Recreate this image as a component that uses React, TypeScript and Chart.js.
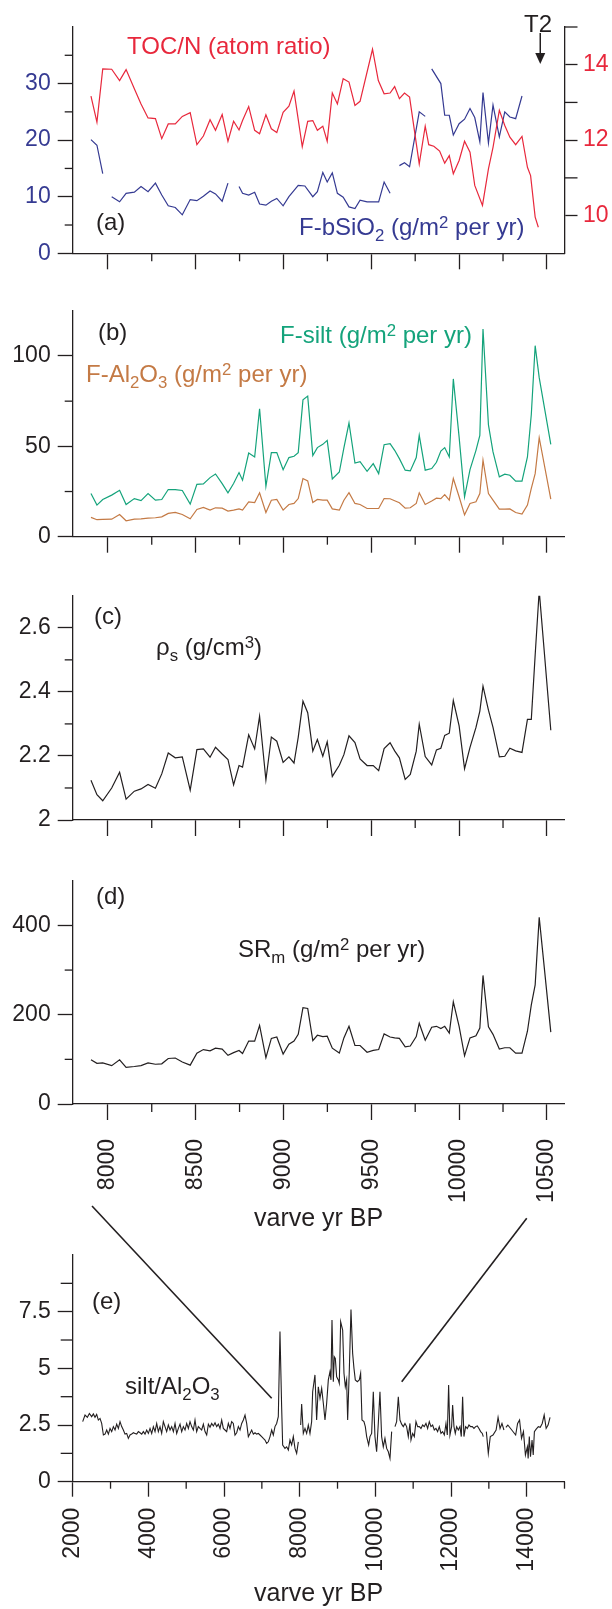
import React, { useEffect, useRef } from 'react';
import { Chart, registerables } from 'chart.js';

Chart.register(...registerables);

const FONT = '"Liberation Sans", Arial, Helvetica, sans-serif';
const INK = '#231f20';
const RED = '#e8283c';
const BLUE = '#353a92';
const GREEN = '#14a37b';
const BROWN = '#c47a45';

// ---------- Panel (a) ----------
const TOC_YEARS = [
  7904, 7938, 7971, 8022, 8067, 8104, 8151, 8189, 8229, 8271,
  8307, 8344, 8384, 8424, 8469, 8507, 8544, 8582, 8613, 8651,
  8684, 8716, 8747, 8767, 8802, 8836, 8864, 8900, 8931, 8962,
  8998, 9031, 9060, 9107, 9138, 9167, 9193, 9224, 9249, 9278,
  9307, 9340, 9373, 9407, 9436, 9507, 9540, 9573, 9607, 9633,
  9660, 9689, 9718, 9773, 9807, 9827, 9856, 9889, 9918, 9944,
  9967, 10000, 10031, 10062, 10089, 10133, 10167, 10193, 10229, 10260,
  10289, 10322, 10358, 10389, 10407, 10433, 10451,
];
const TOC_VALUES = [
  13.17, 12.48, 13.89, 13.88, 13.58, 13.87, 13.36, 12.96, 12.59, 12.57,
  12.04, 12.43, 12.43, 12.63, 12.73, 11.88, 12.11, 12.54, 12.26, 12.68,
  11.97, 12.5, 12.27, 12.52, 12.89, 12.26, 12.17, 12.67, 12.3, 12.2,
  12.74, 12.9, 13.3, 11.83, 12.5, 12.52, 12.26, 12.37, 11.97, 13.25,
  12.96, 13.63, 13.54, 12.92, 13.03, 14.41, 13.58, 13.23, 13.25, 13.42,
  13.1, 13.25, 13.14, 11.37, 12.37, 11.88, 11.84, 11.71, 11.39, 11.59,
  11.11, 11.46, 11.97, 11.68, 10.8, 10.27, 11.24, 11.81, 12.79, 12.39,
  12.08, 11.88, 12.1, 11.28, 11.06, 9.96, 9.69,
];
const BSI_YEARS = [
  7904, 7938, 7971, 7995, 8022, 8067, 8104, 8151, 8189, 8229,
  8271, 8307, 8344, 8384, 8424, 8469, 8507, 8544, 8582, 8613,
  8651, 8684, 8715, 8747, 8767, 8802, 8836, 8864, 8900, 8931,
  8962, 8998, 9031, 9084, 9122, 9167, 9193, 9224, 9249, 9278,
  9307, 9340, 9373, 9407, 9436, 9476, 9511, 9542, 9573, 9607,
  9633, 9660, 9689, 9718, 9773, 9807, 9825, 9844, 9896, 9918,
  9944, 9967, 10000, 10031, 10062, 10089, 10118, 10136, 10167, 10193,
  10229, 10260, 10289, 10322, 10358,
];
const BSI_VALUES = [
  20.1, 19.1, 14.1, null, 10.0, 9.1, 10.6, 10.8, 11.8, 10.9,
  12.4, 10.3, 8.4, 8.1, 6.8, 9.5, 9.3, 10.1, 11.0, 10.5,
  9.2, 12.4, null, 11.8, 10.6, 10.3, 10.8, 8.7, 8.5, 9.2,
  9.7, 8.4, 10.0, 12.0, 11.9, 10.0, 10.9, 14.3, 12.6, 14.2,
  10.6, 9.9, 8.2, 7.9, 9.4, 9.1, 9.1, 9.1, 12.6, 10.6,
  null, 15.5, 16.0, 15.3, 25.0, 24.2, null, 32.6, 30.0, 24.4,
  24.4, 20.9, 22.9, 23.7, 25.6, 24.0, 19.7, 28.4, 19.5, 26.2,
  20.6, 25.0, 24.1, 23.8, 27.8,
];
const T2_YEAR = 10462;

// ---------- Panels (b)-(d), shared samples ----------
const YEARS_BD = [
  7904, 7938, 7971, 8022, 8067, 8104, 8151, 8189, 8229, 8271,
  8307, 8344, 8384, 8424, 8469, 8507, 8544, 8582, 8613, 8651,
  8684, 8716, 8747, 8767, 8802, 8836, 8864, 8900, 8931, 8962,
  8998, 9031, 9060, 9084, 9111, 9138, 9167, 9193, 9224, 9249,
  9278, 9318, 9344, 9373, 9407, 9436, 9476, 9511, 9542, 9573,
  9607, 9633, 9660, 9693, 9722, 9756, 9773, 9807, 9844, 9871,
  9896, 9918, 9944, 9967, 10000, 10031, 10062, 10096, 10118, 10136,
  10167, 10193, 10229, 10260, 10289, 10322, 10358, 10389, 10411, 10433,
  10456, 10522,
];
const SILT = [
  23.9, 17.5, 20.6, 23.0, 25.7, 17.8, 21.1, 20.0, 23.9, 20.2,
  20.6, 26.1, 26.1, 25.6, 18.0, 29.0, 29.2, 32.7, 34.7, 29.4,
  24.3, 29.4, 35.5, 31.3, 46.3, 44.1, 70.8, 27.9, 46.5, 46.5,
  37.1, 43.8, 44.5, 46.5, 75.7, 77.8, 44.9, 49.3, 51.1, 53.3,
  32.0, 35.8, 49.1, 62.9, 40.8, 41.5, 36.2, 40.4, 34.9, 50.9,
  51.5, 47.8, 43.2, 36.8, 36.4, 43.8, 56.1, 36.8, 37.7, 41.2,
  47.4, 49.3, 44.1, 87.3, 55.1, 22.1, 37.1, 47.8, 56.1, 114.9,
  61.9, 46.9, 33.1, 34.6, 34.0, 30.7, 30.7, 44.1, 67.6, 105.7,
  88.0, 51.1,
];
const AL2O3 = [
  10.7, 9.4, 9.6, 9.7, 12.3, 8.8, 9.7, 9.9, 10.3, 10.5,
  11.0, 12.9, 13.4, 12.3, 9.9, 15.1, 16.2, 14.7, 16.0, 15.8,
  14.2, 14.7, 15.4, 14.7, 19.3, 18.9, 24.3, 13.4, 20.2, 20.6,
  14.7, 17.8, 18.4, 21.1, 32.2, 30.9, 18.9, 20.6, 20.2, 20.2,
  15.4, 14.7, 20.2, 24.4, 18.4, 17.8, 15.6, 15.6, 15.6, 21.1,
  21.0, 19.9, 18.8, 15.8, 16.0, 18.4, 24.3, 17.8, 19.7, 21.3,
  21.1, 23.3, 20.2, 32.2, 22.1, 12.1, 18.4, 19.3, 23.9, 42.3,
  23.9, 20.2, 15.3, 15.3, 15.4, 13.4, 12.5, 17.5, 26.7, 34.9,
  54.8, 20.8,
];
const RHO_S = [
  2.124, 2.079, 2.06, 2.1, 2.149, 2.065, 2.09, 2.097, 2.111, 2.099,
  2.144, 2.209, 2.194, 2.197, 2.093, 2.22, 2.222, 2.196, 2.227, 2.206,
  2.189, 2.11, 2.17, 2.165, 2.266, 2.222, 2.324, 2.125, 2.259, 2.246,
  2.18, 2.197, 2.178, 2.258, 2.371, 2.335, 2.215, 2.251, 2.199, 2.244,
  2.136, 2.171, 2.204, 2.263, 2.242, 2.191, 2.17, 2.17, 2.154, 2.223,
  2.241, 2.216, 2.194, 2.127, 2.142, 2.215, 2.299, 2.198, 2.172, 2.219,
  2.224, 2.264, 2.271, 2.373, 2.294, 2.16, 2.227, 2.289, 2.34, 2.418,
  2.343, 2.289, 2.197, 2.199, 2.224, 2.216, 2.211, 2.314, 2.314, 2.515,
  2.716, 2.28,
];
const SR_M = [
  99, 91, 92, 86, 99, 82, 84, 86, 92, 89,
  90, 102, 103, 94, 87, 114, 122, 119, 125, 123,
  109, 115, 120, 113, 141, 141, 176, 104, 147, 150,
  112, 134, 141, 156, 216, 214, 142, 154, 151, 152,
  125, 114, 148, 174, 131, 131, 116, 120, 122, 157,
  150, 148, 147, 128, 130, 151, 181, 143, 172, 174,
  169, 174, 159, 229, 174, 108, 148, 153, 170, 288,
  173, 156, 123, 126, 126, 114, 114, 163, 222, 267,
  418, 161,
];

// ---------- Panel (e) ----------
const E_YEARS = [
  2264, 2326, 2388, 2441, 2502, 2546, 2590, 2634, 2678, 2722,
  2766, 2811, 2855, 2899, 2943, 2987, 3031, 3075, 3119, 3163,
  3207, 3251, 3295, 3339, 3383, 3427, 3471, 3515, 3559, 3603,
  3647, 3692, 3736, 3780, 3824, 3868, 3912, 3956, 4000, 4044,
  4088, 4132, 4176, 4220, 4264, 4308, 4352, 4396, 4440, 4484,
  4528, 4573, 4617, 4661, 4705, 4749, 4793, 4837, 4881, 4925,
  4969, 5013, 5057, 5101, 5145, 5189, 5233, 5277, 5321, 5365,
  5409, 5454, 5498, 5542, 5586, 5630, 5674, 5718, 5762, 5806,
  5850, 5894, 5938, 5982, 6026, 6070, 6114, 6158, 6202, 6246,
  6290, 6335, 6379, 6423, 6467, 6511, 6555, 6599, 6643, 6687,
  6731, 6775, 6819, 6863, 6907, 6951, 6995, 7039, 7083, 7127,
  7171, 7216, 7260, 7303, 7347, 7391, 7435, 7479, 7523, 7550,
  7611, 7656, 7700, 7744, 7788, 7832, 7876, 7920, 7964, 7995,
  8026, 8052, 8096, 8140, 8184, 8228, 8272, 8316, 8343, 8404,
  8448, 8492, 8537, 8581, 8625, 8669, 8713, 8757, 8801, 8827,
  8854, 8889, 8915, 8942, 8977, 9021, 9047, 9083, 9136, 9171,
  9206, 9241, 9268, 9312, 9356, 9400, 9435, 9470, 9523, 9576,
  9611, 9647, 9699, 9735, 9770, 9823, 9858, 9902, 9946, 9990,
  10034, 10078, 10122, 10166, 10210, 10254, 10299, 10343, 10387, 10431,
  10475, 10519, 10563, 10607, 10651, 10695, 10739, 10783, 10827, 10871,
  10915, 10942, 10986, 11030, 11074, 11118, 11162, 11206, 11250, 11294,
  11338, 11382, 11426, 11470, 11514, 11558, 11602, 11646, 11690, 11735,
  11779, 11823, 11867, 11902, 11937, 11972, 12016, 12043, 12078, 12113,
  12149, 12193, 12237, 12272, 12307, 12342, 12386, 12430, 12475, 12519,
  12563, 12607, 12651, 12695, 12739, 12783, 12827, 12853, 12895, 12934,
  12986, 13038, 13110, 13192, 13244, 13296, 13347, 13399, 13425, 13451,
  13502, 13606, 13709, 13760, 13812, 13864, 13915, 13967, 14019, 14039,
  14070, 14101, 14142, 14173, 14204, 14246, 14308, 14359, 14411, 14463,
  14515, 14566, 14618,
];
const SILT_AL2O3 = [
  2.65, 2.94, 2.84, 3.01, 2.87, 2.99, 2.84, 2.97, 2.72, 2.79,
  2.57, 2.06, 2.1, 2.28, 2.1, 2.35, 2.21, 2.43, 2.28, 2.54,
  2.35, 2.65, 2.43, 2.28, 2.1, 2.13, 1.91, 2.06, 2.1, 2.16,
  2.13, 2.1, 2.21, 2.16, 2.1, 2.21, 2.1, 2.28, 2.13, 2.35,
  2.13, 2.43, 2.21, 2.57, 2.21, 2.43, 2.13, 2.65, 2.43, 2.21,
  2.5, 2.28, 2.43, 2.21, 2.57, 2.13, 2.35, 2.54, 2.21, 2.43,
  2.28, 2.57, 2.35, 2.65, 2.43, 2.28, 2.72, 2.21, 2.43, 2.35,
  2.28, 2.54, 2.21, 2.06, 2.54, 2.4, 2.57, 2.46, 2.6, 2.43,
  2.54, 2.35, 2.72, 2.35, 2.28, 2.21, 2.57, 2.35, 2.65, 2.57,
  2.06, 2.16, 2.43, 2.28, 2.57, 2.72, 2.94, 2.57, 1.99, 2.13,
  2.28, 2.1, 2.16, 2.1, 2.13, 2.06, 1.99, 1.91, 1.84, 1.69,
  1.76, 1.99, 2.28, 2.06, 2.43, 2.57, 2.87, 6.62, 3.31, 1.62,
  1.47, 1.54, 1.4, 1.84, 1.62, 1.99, 1.47, 1.25, 1.76, null,
  2.5, 3.43, 2.13, 2.35, 2.13, 2.5, 2.13, 2.65, 3.97, 4.71,
  2.72, 4.19, 3.68, 4.12, 3.46, 2.72, 3.46, 4.49, 4.85, 4.49,
  7.13, 4.41, 5.51, 5.44, 4.63, 4.49, 4.34, 7.06, 6.69, 4.78,
  4.19, 4.49, 2.72, 4.93, 7.6, 5.66, 5.0, 4.49, 4.41, 4.49,
  4.78, 2.72, 2.65, 2.43, 1.99, 1.62, 1.99, 2.13, 3.97, 1.99,
  1.32, 2.57, 3.97, 1.99, 1.54, 1.91, 1.47, 1.32, 1.03, 2.21,
  null, 2.43, 2.65, 3.75, 2.72, 2.54, 2.43, 2.57, 2.43, 1.99,
  2.57, 1.84, 2.13, 1.99, 2.65, 2.43, 2.43, 2.35, 2.5, 2.43,
  2.57, 2.35, 2.65, 2.43, 2.5, 2.28, 2.35, 2.21, 2.43, 2.13,
  2.21, 2.06, 2.57, 2.06, 4.26, 2.06, 2.43, 3.38, 2.43, 2.13,
  2.43, 2.28, 2.43, 1.99, 3.75, 1.99, 2.43, 2.35, 2.5, 2.43,
  2.43, 2.35, 2.43, 2.46, 2.35, 2.21, 2.13, 1.99, null, 2.21,
  1.25, 1.99, 2.06, 2.28, 2.84, 2.35, 2.57, 2.28, null, 2.4,
  2.5, 2.28, 2.06, 2.57, 2.72, 1.91, 2.21, 1.18, 1.54, 1.03,
  1.99, 1.1, 1.84, 1.18, 2.21, 2.31, 2.43, 2.4, 2.57, 2.94,
  2.35, 2.5, 2.84,
];

// Zoom connectors: top end on the (a)-(d) time axis, bottom end in panel (e)
const LINK_TOP_YEARS = [7910, 10385];
const LINK_BOTTOM_YEARS = [7260, 10697];
const LINK_BOTTOM_VALUES = [3.68, 4.41];

// ---------- Axes / ticks ----------
const X_TOP_MIN = 7800;
const X_TOP_MAX = 10600;
const X_TOP_MAJOR = [8000, 8500, 9000, 9500, 10000, 10500];
const X_TOP_MINOR = [8250, 8750, 9250, 9750, 10250];
const X_E_MIN = 2000;
const X_E_MAX = 15000;
const X_E_MAJOR = [2000, 4000, 6000, 8000, 10000, 12000, 14000];
const X_E_MINOR = [3000, 5000, 7000, 9000, 11000, 13000, 15000];
const A_LEFT_MAJOR = [0, 10, 20, 30];
const A_LEFT_MINOR = [5, 15, 25, 35];
const A_RIGHT_MAJOR = [10, 12, 14];
const A_RIGHT_MINOR = [11, 13, 15];
const B_MAJOR = [0, 50, 100];
const B_MINOR = [25, 75];
const C_MAJOR = [2, 2.2, 2.4, 2.6];
const C_MINOR = [2.1, 2.3, 2.5];
const D_MAJOR = [0, 200, 400];
const D_MINOR = [100, 300];
const E_MAJOR = [0, 2.5, 5, 7.5];
const E_MINOR = [1.25, 3.75, 6.25, 8.75];

// ---------- Layout ----------
const W = 612;
const AREA_LEFT = 72.7;
const AREA_RIGHT = 564.5;
const RIGHT_PAD = W - AREA_RIGHT;

const pts = (xs: number[], ys: (number | null)[]) => xs.map((x, i) => ({ x, y: ys[i] }));

type AxisOpts = {
  position: 'left' | 'right' | 'bottom';
  min: number;
  max: number;
  major: number[];
  minor: number[];
  majorLen: number;
  size: number;
  labels: boolean;
  labelColor?: string;
  padding?: number;
  rotate?: boolean;
  title?: { text: string; pb: number };
};

function axis(o: AxisOpts) {
  const isMajor = (v: number) => o.major.includes(v);
  return {
    type: 'linear',
    position: o.position,
    min: o.min,
    max: o.max,
    afterBuildTicks: (s: any) => {
      s.ticks = [...o.major, ...o.minor].sort((a, b) => a - b).map((value) => ({ value }));
    },
    afterFit: (s: any) => {
      if (o.position === 'bottom') s.height = o.size;
      else s.width = o.size;
    },
    ticks: {
      autoSkip: false,
      color: o.labelColor || INK,
      font: { family: FONT, size: 23 },
      padding: o.padding ?? 6,
      minRotation: o.rotate ? 90 : 0,
      maxRotation: o.rotate ? 90 : 0,
      callback: (v: number) => (o.labels && isMajor(v) ? String(v) : ''),
    },
    grid: {
      display: true,
      drawOnChartArea: false,
      drawTicks: true,
      tickLength: o.majorLen,
      tickWidth: 1.3,
      tickColor: (c: any) => (c.tick && isMajor(c.tick.value) ? INK : 'rgba(0,0,0,0)'),
    },
    border: { display: true, color: INK, width: 1.3 },
    title: o.title
      ? {
          display: true,
          text: o.title.text,
          color: INK,
          font: { family: FONT, size: 25 },
          padding: { top: 0, bottom: o.title.pb },
        }
      : { display: false },
  };
}

function minorTicks(specs: { id: string; values: number[]; len: number }[]) {
  return {
    id: 'minorTicks',
    afterDraw(chart: any) {
      const ctx = chart.ctx;
      ctx.save();
      ctx.strokeStyle = INK;
      ctx.lineWidth = 1.3;
      specs.forEach(({ id, values, len }) => {
        const s = chart.scales[id];
        values.forEach((v) => {
          const p = s.getPixelForValue(v);
          ctx.beginPath();
          if (s.isHorizontal()) {
            ctx.moveTo(p, s.top);
            ctx.lineTo(p, s.top + len);
          } else if (s.position === 'left') {
            ctx.moveTo(s.right, p);
            ctx.lineTo(s.right - len, p);
          } else {
            ctx.moveTo(s.left, p);
            ctx.lineTo(s.left + len, p);
          }
          ctx.stroke();
        });
      });
      ctx.restore();
    },
  };
}

const t2Arrow = {
  id: 't2Arrow',
  afterDraw(chart: any) {
    const { ctx, chartArea } = chart;
    const x = chart.scales.x.getPixelForValue(T2_YEAR);
    const y0 = chartArea.top + 6;
    const tip = chartArea.top + 37;
    ctx.save();
    ctx.strokeStyle = INK;
    ctx.fillStyle = INK;
    ctx.lineWidth = 1.5;
    ctx.beginPath();
    ctx.moveTo(x, y0);
    ctx.lineTo(x, tip - 8);
    ctx.stroke();
    ctx.beginPath();
    ctx.moveTo(x - 5, tip - 11);
    ctx.lineTo(x + 5, tip - 11);
    ctx.lineTo(x, tip);
    ctx.closePath();
    ctx.fill();
    ctx.restore();
  },
};

const zoomLinks = {
  id: 'zoomLinks',
  afterDraw(chart: any) {
    const { ctx, chartArea: a, scales } = chart;
    const rise = [49, 36.7];
    ctx.save();
    ctx.strokeStyle = INK;
    ctx.lineWidth = 1.6;
    LINK_TOP_YEARS.forEach((yr, i) => {
      const tx = a.left + ((yr - X_TOP_MIN) / (X_TOP_MAX - X_TOP_MIN)) * (a.right - a.left);
      ctx.beginPath();
      ctx.moveTo(tx, a.top - rise[i]);
      ctx.lineTo(scales.x.getPixelForValue(LINK_BOTTOM_YEARS[i]), scales.y.getPixelForValue(LINK_BOTTOM_VALUES[i]));
      ctx.stroke();
    });
    ctx.restore();
  },
};

function baseOptions(padTop: number, padRight: number, scales: any) {
  return {
    responsive: false,
    animation: false,
    events: [],
    layout: { padding: { top: padTop, right: padRight, left: 0, bottom: 0 } },
    plugins: { legend: { display: false }, tooltip: { enabled: false } },
    scales,
  };
}

const line = (data: any, color: string, extra: any = {}) => ({
  data,
  borderColor: color,
  borderWidth: 1.2,
  pointRadius: 0,
  tension: 0,
  fill: false,
  spanGaps: false,
  ...extra,
});

const xTop = (size: number, labels = false) =>
  axis({
    position: 'bottom',
    min: X_TOP_MIN,
    max: X_TOP_MAX,
    major: X_TOP_MAJOR,
    minor: X_TOP_MINOR,
    majorLen: 16,
    size,
    labels,
    rotate: labels,
    padding: 19,
    title: labels ? { text: 'varve yr BP', pb: 6 } : undefined,
  });

const yLeft = (min: number, max: number, major: number[], minor: number[], color = INK) =>
  axis({ position: 'left', min, max, major, minor, majorLen: 15, size: AREA_LEFT, labels: true, labelColor: color, padding: 7 });

const buildA = () => ({
  type: 'line',
  data: {
    datasets: [
      line(pts(TOC_YEARS, TOC_VALUES), RED, { yAxisID: 'yR' }),
      line(pts(BSI_YEARS, BSI_VALUES), BLUE, { yAxisID: 'y' }),
    ],
  },
  options: baseOptions(27, 0, {
    x: xTop(275 - 253.3),
    y: yLeft(0, 40, A_LEFT_MAJOR, A_LEFT_MINOR, BLUE),
    yR: axis({
      position: 'right', min: 9, max: 15, major: A_RIGHT_MAJOR, minor: A_RIGHT_MINOR,
      majorLen: 13, size: RIGHT_PAD, labels: true, labelColor: RED, padding: 5.5,
    }),
  }),
  plugins: [
    minorTicks([
      { id: 'x', values: X_TOP_MINOR, len: 8 },
      { id: 'y', values: A_LEFT_MINOR, len: 8 },
      { id: 'yR', values: A_RIGHT_MINOR, len: 13 },
    ]),
    t2Arrow,
  ],
});

const buildB = () => ({
  type: 'line',
  data: {
    datasets: [line(pts(YEARS_BD, SILT), GREEN), line(pts(YEARS_BD, AL2O3), BROWN)],
  },
  options: baseOptions(20, RIGHT_PAD, {
    x: xTop(560 - 536.7),
    y: yLeft(0, 125, B_MAJOR, B_MINOR),
  }),
  plugins: [minorTicks([{ id: 'x', values: X_TOP_MINOR, len: 8 }, { id: 'y', values: B_MINOR, len: 8 }])],
});

const buildC = () => ({
  type: 'line',
  data: { datasets: [line(pts(YEARS_BD, RHO_S), INK)] },
  options: baseOptions(18.3, RIGHT_PAD, {
    x: xTop(25),
    y: yLeft(2, 2.7, C_MAJOR, C_MINOR),
  }),
  plugins: [minorTicks([{ id: 'x', values: X_TOP_MINOR, len: 8 }, { id: 'y', values: C_MINOR, len: 8 }])],
});

const buildD = () => ({
  type: 'line',
  data: { datasets: [line(pts(YEARS_BD, SR_M), INK)] },
  options: baseOptions(17.3, RIGHT_PAD, {
    x: xTop(1240 - 1104, true),
    y: yLeft(0, 500, D_MAJOR, D_MINOR),
  }),
  plugins: [minorTicks([{ id: 'x', values: X_TOP_MINOR, len: 8 }, { id: 'y', values: D_MINOR, len: 8 }])],
});

const buildE = () => ({
  type: 'line',
  data: { datasets: [line(pts(E_YEARS, SILT_AL2O3), INK, { borderWidth: 1.1 })] },
  options: baseOptions(60, RIGHT_PAD, {
    x: axis({
      position: 'bottom', min: X_E_MIN, max: X_E_MAX, major: X_E_MAJOR, minor: X_E_MINOR,
      majorLen: 15, size: 1609 - 1481.7, labels: true, rotate: true, padding: 11,
      title: { text: 'varve yr BP', pb: 0 },
    }),
    y: axis({ position: 'left', min: 0, max: 10, major: E_MAJOR, minor: E_MINOR, majorLen: 15, size: AREA_LEFT, labels: true, padding: 7 }),
  }),
  plugins: [minorTicks([{ id: 'x', values: X_E_MINOR, len: 7 }, { id: 'y', values: E_MINOR, len: 12 }]), zoomLinks],
});

function ChartCanvas({ top, height, build }: { top: number; height: number; build: () => any }) {
  const ref = useRef<HTMLCanvasElement>(null);
  useEffect(() => {
    const chart = new Chart(ref.current as HTMLCanvasElement, build());
    return () => chart.destroy();
  }, []);
  return (
    <canvas
      ref={ref}
      width={W}
      height={height}
      style={{ position: 'absolute', left: 0, top, width: W, height, display: 'block' }}
    />
  );
}

const Sub = ({ children }: { children: React.ReactNode }) => (
  <span style={{ fontSize: '0.7em', verticalAlign: '-0.35em', lineHeight: 0 }}>{children}</span>
);
const Sup = ({ children }: { children: React.ReactNode }) => (
  <span style={{ fontSize: '0.7em', verticalAlign: '0.42em', lineHeight: 0 }}>{children}</span>
);

function Note({ left, top, color, children }: { left: number; top: number; color: string; children: React.ReactNode }) {
  return (
    <div
      style={{
        position: 'absolute',
        left,
        top,
        color,
        fontFamily: FONT,
        fontSize: 24,
        lineHeight: '24px',
        whiteSpace: 'nowrap',
      }}
    >
      {children}
    </div>
  );
}

export default function App() {
  return (
    <div style={{ position: 'absolute', left: 0, top: 0, width: W, height: 1609, overflow: 'hidden', background: '#fff' }}>
      <ChartCanvas top={0} height={275} build={buildA} />
      <ChartCanvas top={290} height={270} build={buildB} />
      <ChartCanvas top={575} height={270} build={buildC} />
      <ChartCanvas top={860} height={380} build={buildD} />
      <ChartCanvas top={1195} height={414} build={buildE} />

      <Note left={127} top={34} color={RED}>TOC/N (atom ratio)</Note>
      <Note left={524} top={12} color={INK}>T2</Note>
      <Note left={96} top={210} color={INK}>(a)</Note>
      <Note left={299} top={215} color={BLUE}>
        F-bSiO<Sub>2</Sub> (g/m<Sup>2</Sup> per yr)
      </Note>
      <Note left={98} top={320} color={INK}>(b)</Note>
      <Note left={280} top={323} color={GREEN}>
        F-silt (g/m<Sup>2</Sup> per yr)
      </Note>
      <Note left={86} top={362} color={BROWN}>
        F-Al<Sub>2</Sub>O<Sub>3</Sub> (g/m<Sup>2</Sup> per yr)
      </Note>
      <Note left={94} top={604} color={INK}>(c)</Note>
      <Note left={156} top={635} color={INK}>
        ρ<Sub>s</Sub> (g/cm<Sup>3</Sup>)
      </Note>
      <Note left={96} top={884} color={INK}>(d)</Note>
      <Note left={238} top={937} color={INK}>
        SR<Sub>m</Sub> (g/m<Sup>2</Sup> per yr)
      </Note>
      <Note left={92} top={1289} color={INK}>(e)</Note>
      <Note left={125} top={1374} color={INK}>
        silt/Al<Sub>2</Sub>O<Sub>3</Sub>
      </Note>
    </div>
  );
}
